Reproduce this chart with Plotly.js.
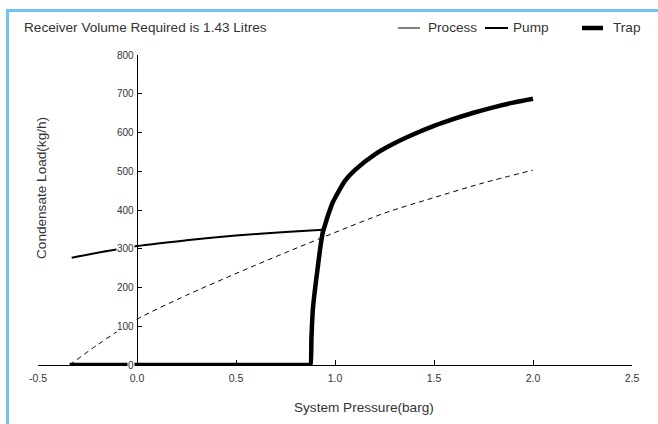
<!DOCTYPE html>
<html>
<head>
<meta charset="utf-8">
<script src="https://cdn.plot.ly/plotly-3.0.1.min.js"></script>
<style>
html,body{margin:0;padding:0;background:#fff;}
#chart{width:658px;height:424px;}
</style>
</head>
<body>
<div id="chart"></div>
<script>
// ---- data ----
const chartTitle = "Receiver Volume Required is 1.43 Litres";
const xTitle = "System Pressure(barg)";
const yTitle = "Condensate Load(kg/h)";
const seriesNames = ["Process", "Pump", "Trap"];

const processX = [-0.34, -0.2, 0.0, 0.25, 0.5, 0.75, 1.0, 1.25, 1.5, 1.75, 2.0];
const processY = [0, 52, 118, 180, 236, 290, 342, 392, 432, 470, 503];

const pumpX = [-0.33, 0.0, 0.25, 0.5, 0.75, 0.94];
const pumpY = [277, 307, 322, 334, 343, 349];

const trapX = [-0.34, 0.87, 0.876, 0.881, 0.888, 0.9, 0.913, 0.925, 0.938, 0.95, 0.964, 0.989, 1.0, 1.05, 1.1, 1.2, 1.3, 1.4, 1.5, 1.6, 1.7, 1.8, 1.9, 2.0];
const trapY = [0, 0, 0, 70, 143, 200, 252, 300, 341, 362, 385, 420, 431, 475, 503, 543, 572, 596, 617, 635, 651, 665, 677, 687];

const xTickVals = [-0.5, 0.0, 0.5, 1.0, 1.5, 2.0, 2.5];
const xTickText = ["-0.5", "0.0", "0.5", "1.0", "1.5", "2.0", "2.5"];
const yTickVals = [0, 100, 200, 300, 400, 500, 600, 700, 800];

// ---- layout helpers ----
const W = 658, H = 424, L = 38, R = 26, T = 55, B = 59;
const pw = W - L - R, ph = H - T - B;
const px = v => (v - L) / pw;
const py = v => (H - B - v) / ph;

const txt = "#333333";
const fontFam = "Liberation Sans, Arial, sans-serif";
const bigFont = 13.6;

const traces = [
  {x: processX, y: processY, mode: "lines", name: seriesNames[0], cliponaxis: false,
   line: {color: "#000", width: 1, dash: "5px,4px", shape: "spline", smoothing: 0.8}, showlegend: false, hoverinfo: "skip"},
  {x: pumpX, y: pumpY, mode: "lines", name: seriesNames[1], cliponaxis: false,
   line: {color: "#000", width: 2, shape: "spline", smoothing: 0.8}, showlegend: false, hoverinfo: "skip"},
  {x: trapX, y: trapY, mode: "lines", name: seriesNames[2], cliponaxis: false,
   line: {color: "#000", width: 4.5, shape: "spline", smoothing: 0.6}, showlegend: false, hoverinfo: "skip"}
];

const annotations = [];
yTickVals.forEach(v => annotations.push({
  x: 0, y: v, xref: "x", yref: "y", text: String(v), showarrow: false,
  xanchor: "right", yanchor: "middle", xshift: -2, bgcolor: "#fff", borderpad: 0,
  font: {family: fontFam, size: 10, color: txt}
}));
annotations.push({x: px(22), y: py(28), xref: "paper", yref: "paper", text: chartTitle,
  showarrow: false, xanchor: "left", yanchor: "middle", font: {family: fontFam, size: bigFont, color: txt}});
annotations.push({x: px(364), y: py(407), xref: "paper", yref: "paper", text: xTitle,
  showarrow: false, xanchor: "center", yanchor: "middle", font: {family: fontFam, size: bigFont, color: txt}});
annotations.push({x: px(41), y: py(188), xref: "paper", yref: "paper", text: yTitle, textangle: -90,
  showarrow: false, xanchor: "center", yanchor: "middle", font: {family: fontFam, size: bigFont, color: txt}});

// manual legend
const legendItems = [
  {x0: 398, x1: 420, tx: 426, w: 1},
  {x0: 485, x1: 508, tx: 511, w: 2},
  {x0: 582, x1: 603, tx: 611, w: 4.5}
];
const shapes = [];
legendItems.forEach((it, i) => {
  shapes.push({type: "line", xref: "paper", yref: "paper", x0: px(it.x0), x1: px(it.x1),
    y0: py(28), y1: py(28), line: {color: "#000", width: it.w}});
  annotations.push({x: px(it.tx), y: py(28), xref: "paper", yref: "paper", text: seriesNames[i],
    showarrow: false, xanchor: "left", yanchor: "middle", font: {family: fontFam, size: bigFont, color: txt}});
});
// blue frame
const frameColor = "#6cc4f0";
shapes.push({type: "line", xref: "paper", yref: "paper", x0: px(6), x1: px(660), y0: py(10.5), y1: py(10.5),
  line: {color: frameColor, width: 3}});
shapes.push({type: "line", xref: "paper", yref: "paper", x0: px(7.5), x1: px(7.5), y0: py(9), y1: py(426),
  line: {color: frameColor, width: 3}});

const layout = {
  width: W, height: H,
  margin: {l: L, r: R, t: T, b: B, pad: 0},
  paper_bgcolor: "#fff", plot_bgcolor: "#fff",
  showlegend: false,
  font: {family: fontFam, color: txt},
  xaxis: {
    range: [-0.5, 2.5], tickvals: xTickVals, ticktext: xTickText,
    showline: true, linecolor: "#000", linewidth: 1, mirror: false,
    ticks: "inside", ticklen: 5, tickcolor: "#000", tickwidth: 1,
    ticklabelstandoff: 3,
    showgrid: false, zeroline: false,
    tickfont: {family: fontFam, size: 10.5, color: txt}
  },
  yaxis: {
    range: [0, 800], anchor: "free", position: 0.5 / 3,
    showline: true, linecolor: "#000", linewidth: 1,
    ticks: "inside", ticklen: 4, tickcolor: "#000", tickwidth: 1,
    tickvals: yTickVals, showticklabels: false,
    showgrid: false, zeroline: false
  },
  annotations: annotations,
  shapes: shapes
};

Plotly.newPlot("chart", traces, layout, {staticPlot: true, displayModeBar: false});
</script>
</body>
</html>
